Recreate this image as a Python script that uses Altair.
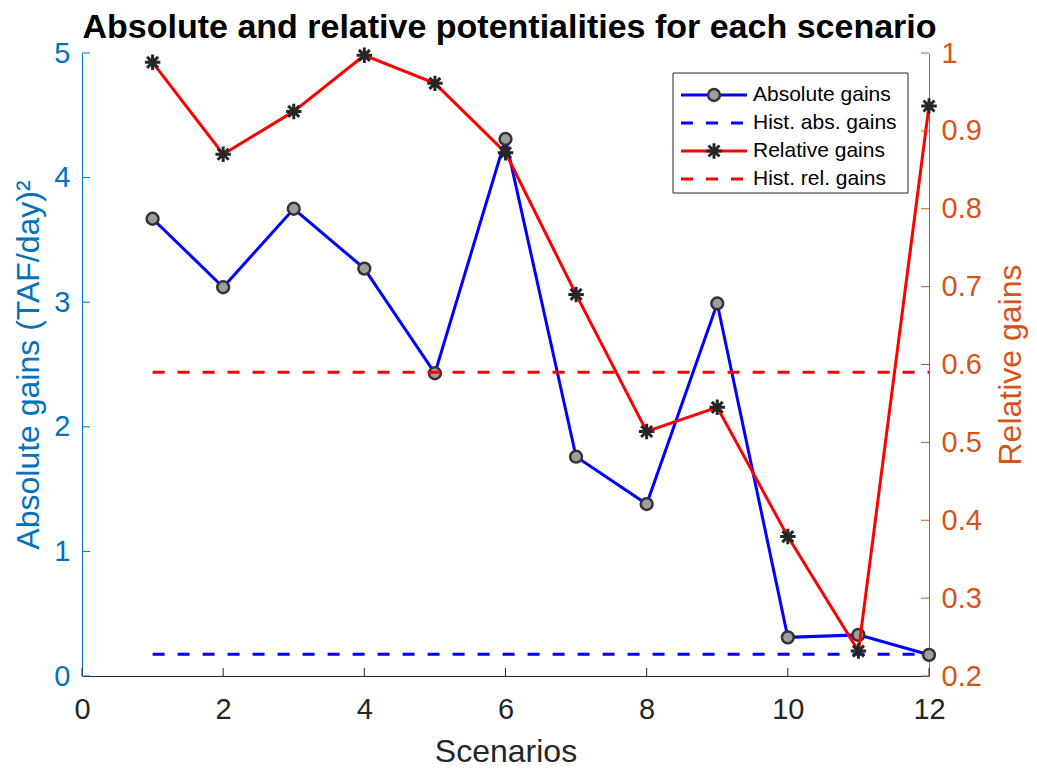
import altair as alt
import pandas as pd

# ---------------- data ----------------
scenarios = [1, 2, 3, 4, 5, 6, 7, 8, 9, 10, 11, 12]
absolute_gains = [3.67, 3.12, 3.75, 3.27, 2.43, 4.31, 1.76, 1.38, 2.99, 0.31, 0.33, 0.17]
relative_gains = [0.988, 0.870, 0.925, 0.997, 0.961, 0.872, 0.690, 0.514, 0.545, 0.379, 0.232, 0.932]
hist_abs_gain = 0.175
hist_rel_gain = 0.590
hist_span = [1, 12]

x_ticks = [0, 2, 4, 6, 8, 10, 12]
left_ticks = [0, 1, 2, 3, 4, 5]
right_ticks = [0.2, 0.3, 0.4, 0.5, 0.6, 0.7, 0.8, 0.9, 1.0]

legend_labels = ["Absolute gains", "Hist. abs. gains", "Relative gains", "Hist. rel. gains"]

# ---------------- style ----------------
FONT = "Liberation Sans"
BLUE_AX = "#0072BD"
ORANGE_AX = "#D95319"
DARK = "#262626"
W, H = 847, 623
ASTERISK = "M-1,0L1,0M0,-1L0,1M-0.71,-0.71L0.71,0.71M-0.71,0.71L0.71,-0.71"

abs_df = pd.DataFrame({"x": scenarios, "y": absolute_gains})
rel_df = pd.DataFrame({"x": scenarios, "y": relative_gains})
hist_abs_df = pd.DataFrame({"x": hist_span, "y": [hist_abs_gain] * 2})
hist_rel_df = pd.DataFrame({"x": hist_span, "y": [hist_rel_gain] * 2})
xt_df = pd.DataFrame({"x": x_ticks})
lt_df = pd.DataFrame({"y": left_ticks})
rt_df = pd.DataFrame({"y": right_ticks})
dummy = pd.DataFrame({"d": [0]})

X = alt.X(
    "x:Q",
    scale=alt.Scale(domain=[0, 12], nice=False, zero=False),
    axis=alt.Axis(
        title="Scenarios", values=x_ticks, grid=False, ticks=False, tickSize=0,
        domainColor=DARK, domainWidth=1, labelColor=DARK, titleColor=DARK,
        labelFont=FONT, titleFont=FONT, labelFontSize=29, titleFontSize=32,
        titleFontWeight="normal", labelPadding=19, titlePadding=12,
        labelFlush=False,
    ),
)

YL = alt.Y(
    "y:Q",
    scale=alt.Scale(domain=[0, 5], nice=False, zero=False),
    axis=alt.Axis(
        title="Absolute gains (TAF/day)²", orient="left", values=left_ticks, grid=False,
        ticks=False, tickSize=0, domainColor=BLUE_AX, domainWidth=1,
        labelColor=BLUE_AX, titleColor=BLUE_AX, labelFont=FONT, titleFont=FONT,
        labelFontSize=29, titleFontSize=32, titleFontWeight="normal",
        labelPadding=12, titlePadding=8, labelFlush=False,
    ),
)

YR = alt.Y(
    "y:Q",
    scale=alt.Scale(domain=[0.2, 1.0], nice=False, zero=False),
    axis=alt.Axis(
        title="Relative gains", orient="right", values=right_ticks, format="~g",
        grid=False, ticks=False, tickSize=0, domainColor=ORANGE_AX, domainWidth=1,
        labelColor=ORANGE_AX, titleColor=ORANGE_AX, labelFont=FONT, titleFont=FONT,
        labelFontSize=29, titleFontSize=32, titleFontWeight="normal",
        labelPadding=12, titlePadding=14, titleAngle=270, titleBaseline="top",
        labelFlush=False,
    ),
)

# ---------------- left (absolute) group ----------------
hist_abs = alt.Chart(hist_abs_df).mark_line(
    color="#0000FF", strokeWidth=3, strokeDash=[12, 13]
).encode(x=X, y=YL)
abs_line = alt.Chart(abs_df).mark_line(color="#0000FF", strokeWidth=3).encode(x=X, y=YL)
abs_pts = alt.Chart(abs_df).mark_point(
    shape="circle", filled=True, fill="#9E9E9E", stroke="#333333",
    strokeWidth=2.5, size=140, opacity=1,
).encode(x=X, y=YL)
x_tick_marks = alt.Chart(xt_df).mark_rule(color=DARK, strokeWidth=1).encode(
    x=X, y=alt.value(H), y2=alt.value(H - 8)
)
left_tick_marks = alt.Chart(lt_df).mark_rule(color=BLUE_AX, strokeWidth=1).encode(
    y=YL, x=alt.value(0), x2=alt.value(8)
)
left_group = alt.layer(hist_abs, abs_line, x_tick_marks, left_tick_marks, abs_pts)

# ---------------- right (relative) group ----------------
hist_rel = alt.Chart(hist_rel_df).mark_line(
    color="#FF0000", strokeWidth=3, strokeDash=[12, 13]
).encode(x=X, y=YR)
rel_line = alt.Chart(rel_df).mark_line(color="#FF0000", strokeWidth=3).encode(x=X, y=YR)
rel_pts = alt.Chart(rel_df).mark_point(
    shape=ASTERISK, filled=False, stroke="#262626", strokeWidth=3, size=240, opacity=1,
).encode(x=X, y=YR)
right_tick_marks = alt.Chart(rt_df).mark_rule(color=ORANGE_AX, strokeWidth=1).encode(
    y=YR, x=alt.value(W), x2=alt.value(W - 8)
)
right_group = alt.layer(hist_rel, rel_line, right_tick_marks, rel_pts)

# ---------------- legend ----------------
LX0, LX1, LY0, LY1 = 591, 826, 20, 140
row_y = [42, 70, 98, 126]
leg_colors = ["#0000FF", "#0000FF", "#FF0000", "#FF0000"]
leg_dash = [None, [12, 13], None, [12, 13]]

legend_layers = [
    alt.Chart(dummy).mark_rect(fill="white", stroke=DARK, strokeWidth=1).encode(
        x=alt.value(LX0), x2=alt.value(LX1), y=alt.value(LY0), y2=alt.value(LY1)
    )
]
for i, lab in enumerate(legend_labels):
    rule_kw = dict(color=leg_colors[i], strokeWidth=3)
    if leg_dash[i]:
        rule_kw["strokeDash"] = leg_dash[i]
    legend_layers.append(
        alt.Chart(dummy).mark_rule(**rule_kw).encode(
            x=alt.value(599), x2=alt.value(665), y=alt.value(row_y[i])
        )
    )
    if i == 0:
        legend_layers.append(
            alt.Chart(dummy).mark_point(
                shape="circle", filled=True, fill="#9E9E9E", stroke="#333333",
                strokeWidth=2.5, size=140, opacity=1,
            ).encode(x=alt.value(632), y=alt.value(row_y[i]))
        )
    if i == 2:
        legend_layers.append(
            alt.Chart(dummy).mark_point(
                shape=ASTERISK, filled=False, stroke="#262626", strokeWidth=3,
                size=240, opacity=1,
            ).encode(x=alt.value(632), y=alt.value(row_y[i]))
        )
    legend_layers.append(
        alt.Chart(dummy).mark_text(
            text=lab, align="left", baseline="middle", font=FONT, fontSize=21, color="black"
        ).encode(x=alt.value(671), y=alt.value(row_y[i]))
    )
legend = alt.layer(*legend_layers)

chart = (
    alt.layer(left_group, right_group, legend)
    .resolve_scale(y="independent")
    .properties(
        width=W,
        height=H,
        title=alt.TitleParams(
            "Absolute and relative potentialities for each scenario",
            font=FONT, fontSize=34, fontWeight="bold", color="black",
            anchor="middle", offset=8, dx=4, dy=14,
        ),
        padding={"left": 82, "top": 53, "right": 108, "bottom": 96},
        autosize=alt.AutoSizeParams(type="none"),
        background="white",
    )
    .configure_view(stroke=None)
)

chart.save("out.html", embed_options={"renderer": "svg", "actions": False})
